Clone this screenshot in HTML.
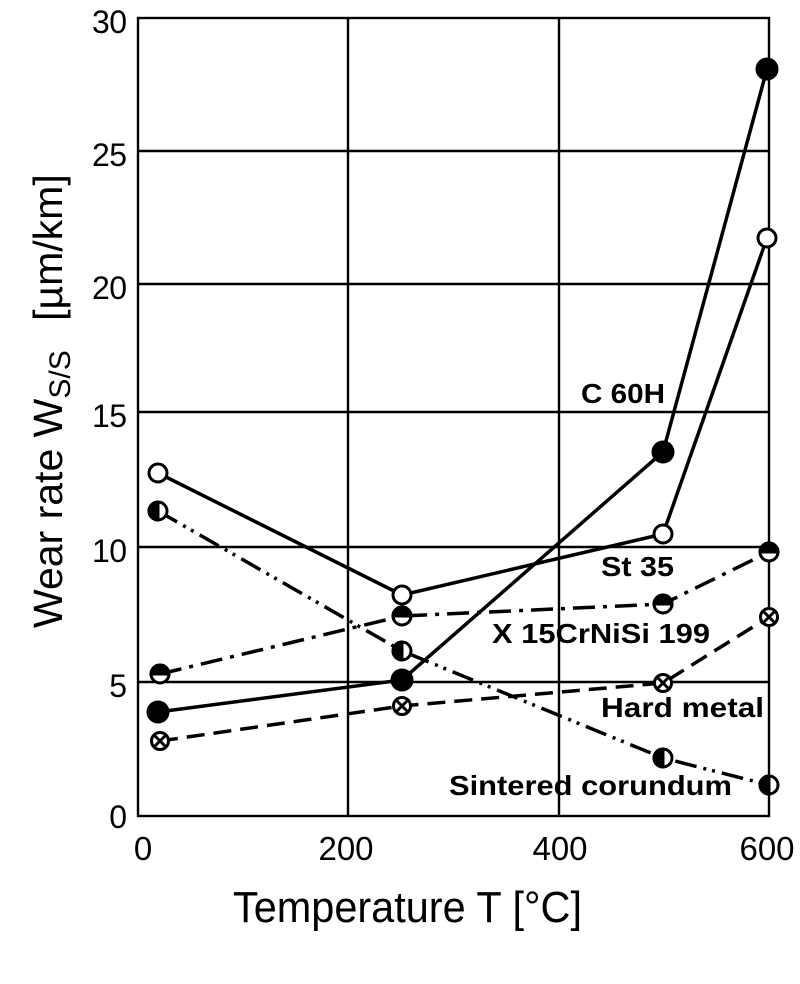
<!DOCTYPE html>
<html><head><meta charset="utf-8"><style>html,body{margin:0;padding:0;background:#fff}</style></head>
<body>
<svg width="800" height="979" viewBox="0 0 800 979" xmlns="http://www.w3.org/2000/svg" font-family="Liberation Sans, Arial, sans-serif">
<rect width="800" height="979" fill="#fff"/>
<g stroke="#000" stroke-width="2.4" fill="none">
<rect x="138" y="18" width="631" height="798"/>
<line x1="348" y1="18" x2="348" y2="816"/>
<line x1="559" y1="18" x2="559" y2="816"/>
<line x1="138" y1="151" x2="769" y2="151"/>
<line x1="138" y1="284" x2="769" y2="284"/>
<line x1="138" y1="412" x2="769" y2="412"/>
<line x1="138" y1="547" x2="769" y2="547"/>
<line x1="138" y1="682" x2="769" y2="682"/>
</g>
<g font-size="32" text-anchor="end" fill="#000">
<text x="127" y="33" textLength="35">30</text>
<text x="127" y="166" textLength="35">25</text>
<text x="127" y="299" textLength="35">20</text>
<text x="127" y="427" textLength="35">15</text>
<text x="127" y="562" textLength="35">10</text>
<text x="127" y="697">5</text>
<text x="127" y="828">0</text>
</g>
<g font-size="33" text-anchor="middle" fill="#000">
<text x="143" y="860">0</text>
<text x="346" y="860" textLength="55">200</text>
<text x="560" y="860" textLength="55">400</text>
<text x="767" y="860" textLength="55">600</text>
</g>
<text x="233" y="922" font-size="44" textLength="349" lengthAdjust="spacingAndGlyphs">Temperature T [°C]</text>
<g transform="translate(62,628) rotate(-90)">
<text x="0" y="0" font-size="41">Wear rate W<tspan font-size="30" dy="8">S/S</tspan><tspan dy="-8"> </tspan><tspan dx="18">[µm/km]</tspan></text>
</g>
<g fill="none" stroke="#000" stroke-width="3.5">
<polyline points="158,712 402,680 663,452 767,69"/>
<polyline points="158,473 402,595 663,534 767,238"/>
<polyline points="160,674 402,616 663,604 769,552" stroke-dasharray="22,8,4,8"/>
<polyline points="160,741 402,706 663,683 769,617" stroke-dasharray="18,9"/>
<polyline points="158,511 402,651 663,758 769,785" stroke-dasharray="22,7,3,6,3,7"/>
</g>
<g stroke="#000" stroke-width="3">
<circle cx="158" cy="712" r="10" fill="#000"/>
<circle cx="402" cy="680" r="10" fill="#000"/>
<circle cx="663" cy="452" r="10" fill="#000"/>
<circle cx="767" cy="69" r="10" fill="#000"/>
<circle cx="158" cy="473" r="9" fill="#fff"/>
<circle cx="402" cy="595" r="9" fill="#fff"/>
<circle cx="663" cy="534" r="9" fill="#fff"/>
<circle cx="767" cy="238" r="9" fill="#fff"/>
</g>
<g stroke="#000" stroke-width="3">
<g><circle cx="160" cy="674" r="9" fill="#fff"/><path d="M151,674 A9,9 0 0 1 169,674 Z" fill="#000"/></g>
<g><circle cx="402" cy="616" r="9" fill="#fff"/><path d="M393,616 A9,9 0 0 1 411,616 Z" fill="#000"/></g>
<g><circle cx="663" cy="604" r="9" fill="#fff"/><path d="M654,604 A9,9 0 0 1 672,604 Z" fill="#000"/></g>
<g><circle cx="769" cy="552" r="9" fill="#fff"/><path d="M760,552 A9,9 0 0 1 778,552 Z" fill="#000"/></g>
<g><circle cx="158" cy="511" r="9" fill="#fff"/><path d="M158,502 A9,9 0 0 0 158,520 Z" fill="#000"/></g>
<g><circle cx="402" cy="651" r="9" fill="#fff"/><path d="M402,642 A9,9 0 0 0 402,660 Z" fill="#000"/></g>
<g><circle cx="663" cy="758" r="9" fill="#fff"/><path d="M663,749 A9,9 0 0 0 663,767 Z" fill="#000"/></g>
<g><circle cx="769" cy="785" r="9" fill="#fff"/><path d="M769,776 A9,9 0 0 0 769,794 Z" fill="#000"/></g>
<g><circle cx="160" cy="741" r="8.5" fill="#fff"/><path d="M154,735 L166,747 M166,735 L154,747"/></g>
<g><circle cx="402" cy="706" r="8.5" fill="#fff"/><path d="M396,700 L408,712 M408,700 L396,712"/></g>
<g><circle cx="663" cy="683" r="8.5" fill="#fff"/><path d="M657,677 L669,689 M669,677 L657,689"/></g>
<g><circle cx="769" cy="617" r="8.5" fill="#fff"/><path d="M763,611 L775,623 M775,611 L763,623"/></g>
</g>
<g font-size="28" font-weight="bold" fill="#000">
<text x="581" y="403" textLength="84" lengthAdjust="spacingAndGlyphs">C 60H</text>
<text x="601" y="576" textLength="73" lengthAdjust="spacingAndGlyphs">St 35</text>
<text x="492" y="643" textLength="218" lengthAdjust="spacingAndGlyphs">X 15CrNiSi 199</text>
<text x="601" y="717" textLength="163" lengthAdjust="spacingAndGlyphs">Hard metal</text>
<text x="449" y="795" textLength="283" lengthAdjust="spacingAndGlyphs">Sintered corundum</text>
</g>
</svg>
</body></html>
